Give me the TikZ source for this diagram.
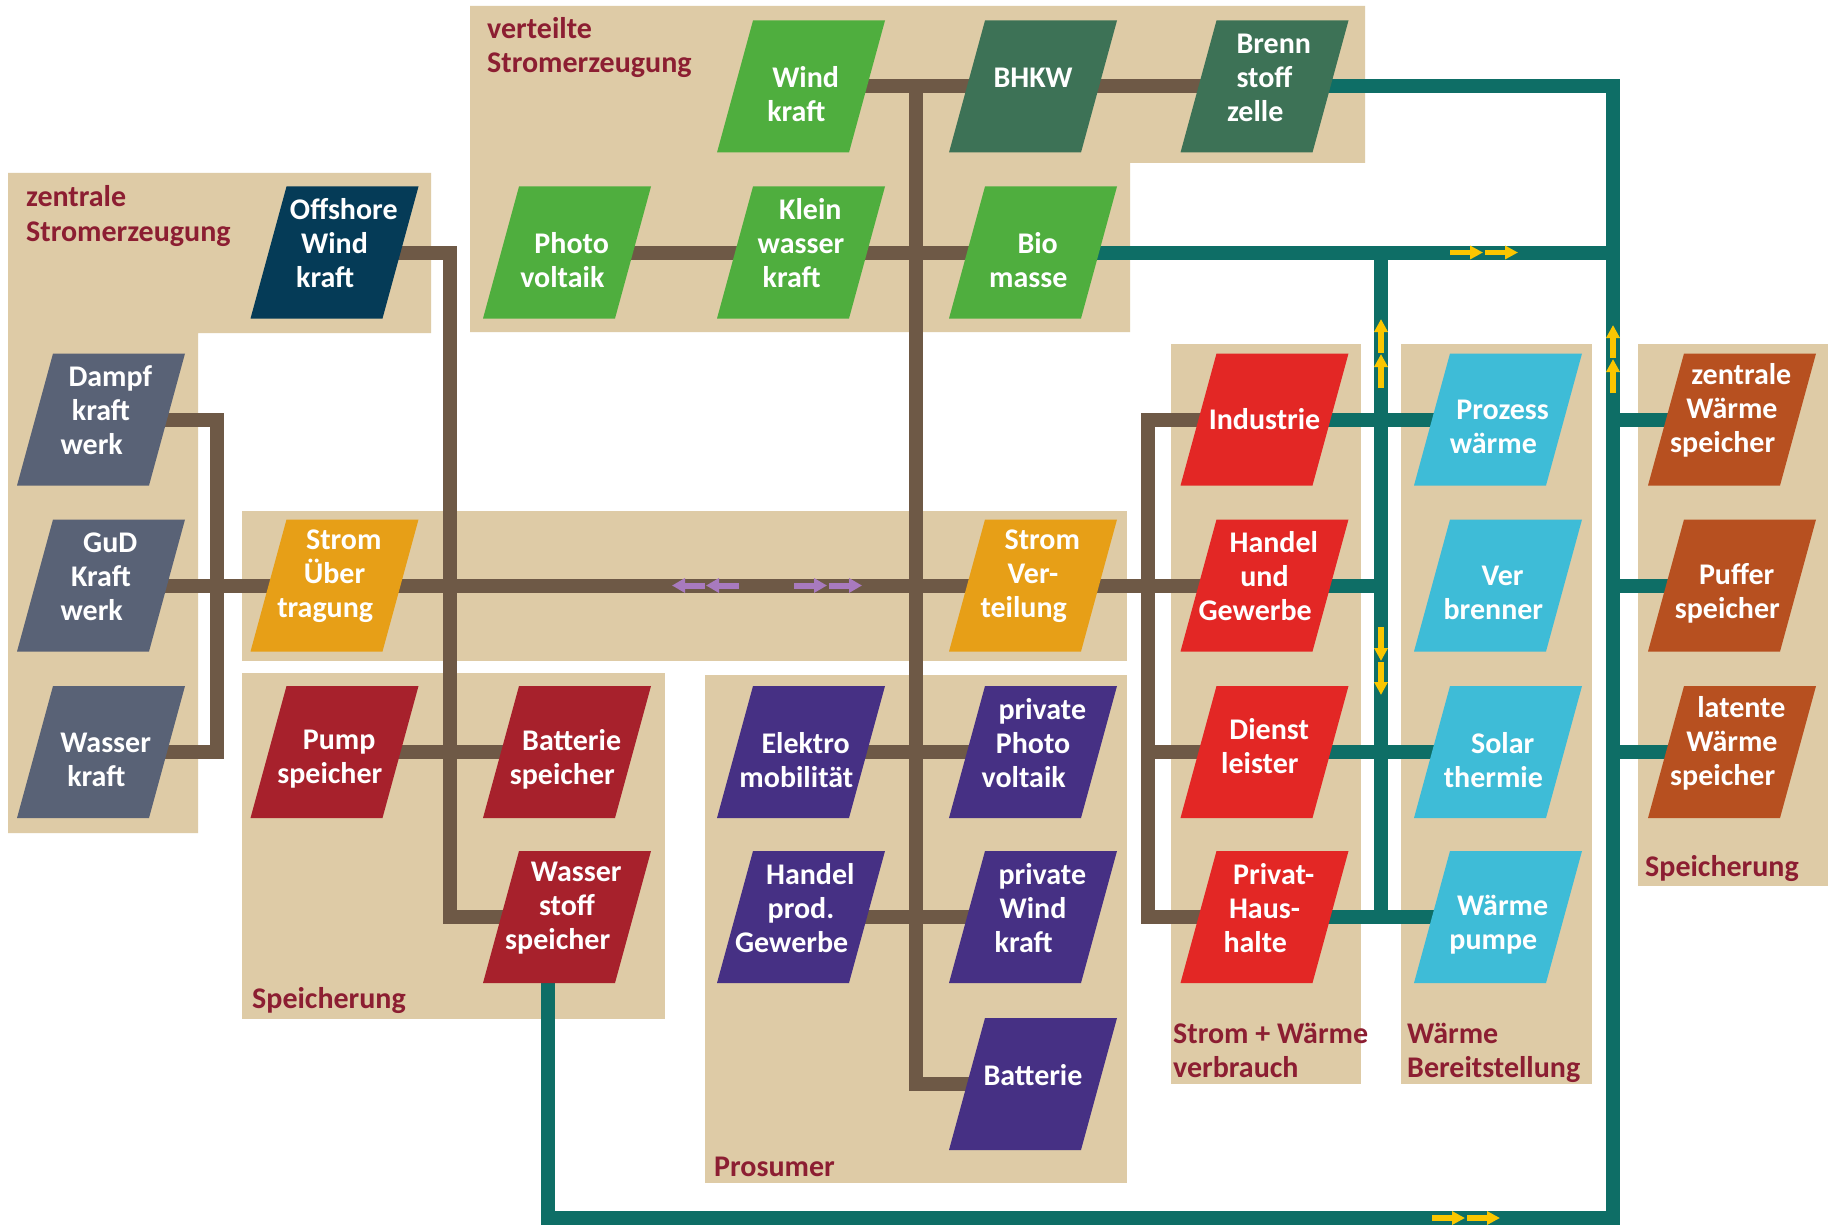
\documentclass[tikz,border=0pt]{standalone}
\usepackage{fontspec}
\setmainfont{Carlito}
\usetikzlibrary{arrows.meta}
\definecolor{tanbg}{RGB}{222,203,166}
\definecolor{lbl}{RGB}{140,30,50}
\definecolor{cGray}{RGB}{89,98,118}
\definecolor{cOff}{RGB}{5,59,87}
\definecolor{cG}{RGB}{79,174,62}
\definecolor{cDG}{RGB}{61,114,86}
\definecolor{cOr}{RGB}{231,159,23}
\definecolor{cDR}{RGB}{167,33,44}
\definecolor{cP}{RGB}{70,48,132}
\definecolor{cR}{RGB}{227,39,37}
\definecolor{cC}{RGB}{62,188,215}
\definecolor{cRu}{RGB}{183,80,32}
\definecolor{cBr}{RGB}{110,89,70}
\definecolor{cTe}{RGB}{14,110,102}
\definecolor{yel}{RGB}{250,198,0}
\definecolor{lil}{RGB}{168,122,190}
\pgfdeclarelayer{bg}
\pgfdeclarelayer{ln}
\pgfsetlayers{bg,ln,main}
\newcommand\LsA{\makebox[18.6pt]{}}
\newcommand\LsB{\makebox[9.3pt]{}}
\newcommand\Pnode[6]{%
  \node[pshape=#4] (#1) at (#2,#3) {};
  \node[ptext,yshift=#5pt] (#1-t) at (#1.center) {#6};}
\tikzset{
  pshape/.style={shape=rectangle, minimum width=168pt, minimum height=132pt,
    inner sep=0pt, outer sep=0pt,
    path picture={\fill[#1] (path picture bounding box.south west)
      -- ([xshift=-36pt]path picture bounding box.south east)
      -- (path picture bounding box.north east)
      -- ([xshift=36pt]path picture bounding box.north west) -- cycle;}},
  ptext/.style={text=white, font=\bfseries\fontsize{30}{34}\selectfont, align=center, inner sep=0pt},
  glab/.style={text=lbl, font=\bfseries\fontsize{30}{34}\selectfont, anchor=base west, inner sep=0pt},
  brn/.style={draw=cBr, line width=14pt},
  tel/.style={draw=cTe, line width=14pt},
  yar/.style={draw=yel, line width=5.5pt, -{Triangle[length=13pt,width=13pt]}},
  lar/.style={draw=lil, line width=6pt, -{Triangle[length=13pt,width=14pt]}}
}
\begin{document}
\begin{tikzpicture}[x=1pt,y=-1pt]
\useasboundingbox (0,0) rectangle (1839,1225);
\begin{pgfonlayer}{bg}
\fill[white] (0,0) rectangle (1839,1225);
\fill[tanbg] (8,173) -- (431,173) -- (431,333) -- (198,333) -- (198,833) -- (8,833) -- cycle;
\fill[tanbg] (470,6) -- (1365,6) -- (1365,163) -- (1130,163) -- (1130,332) -- (470,332) -- cycle;
\fill[tanbg] (242,511) rectangle (1127,661);
\fill[tanbg] (242,673) rectangle (665,1019);
\fill[tanbg] (705,675) rectangle (1127,1183);
\fill[tanbg] (1171,344) rectangle (1361,1084);
\fill[tanbg] (1401,344) rectangle (1592,1084);
\fill[tanbg] (1638,344) rectangle (1828,886);
\end{pgfonlayer}

% group labels
\node[glab] (lz1) at (26,206.7) {zentrale};
\node[glab] (lz2) at (26,241) {Stromerzeugung};
\node[glab] (lv1) at (487,38.3) {verteilte};
\node[glab] (lv2) at (487,72.7) {Stromerzeugung};
\node[glab] (ls1) at (252,1008) {Speicherung};
\node[glab] (lp) at (714,1176) {Prosumer};
\node[glab] (lsw1) at (1173,1043) {Strom + Wärme};
\node[glab] (lsw2) at (1173,1077) {verbrauch};
\node[glab] (lwb1) at (1407,1043) {Wärme};
\node[glab] (lwb2) at (1407,1077) {Bereitstellung};
\node[glab] (ls2) at (1645,876) {Speicherung};

% nodes
\Pnode{off}{334.5}{252.5}{cOff}{9}{\LsA Offshore\\Wind\\kraft\LsA}
\Pnode{dampf}{101}{419.5}{cGray}{9}{\LsA Dampf\\kraft\\werk\LsA}
\Pnode{gud}{101}{585.5}{cGray}{9}{\LsA GuD\\Kraft\\werk\LsA}
\Pnode{wk}{101}{752}{cGray}{-7.6}{\LsB Wasser\\kraft\LsB}
\Pnode{su}{334.5}{585.5}{cOr}{9}{\LsA Strom\\Über\\tragung\LsA}
\Pnode{pump}{334.5}{752}{cDR}{-7.6}{\LsB Pump\\speicher\LsB}
\Pnode{bsp}{567}{752}{cDR}{-7.6}{\LsB Batterie\\speicher\LsB}
\Pnode{h2}{567}{917}{cDR}{9}{\LsA Wasser\\stoff\\speicher\LsA}
\Pnode{pv}{567}{252.5}{cG}{-7.6}{\LsB Photo\\voltaik\LsB}
\Pnode{wind}{801}{86.5}{cG}{-7.6}{\LsB Wind\\kraft\LsB}
\Pnode{kwk}{801}{252.5}{cG}{9}{\LsA Klein\\wasser\\kraft\LsA}
\Pnode{bhkw}{1033}{86.5}{cDG}{9}{BHKW}
\Pnode{bio}{1033}{252.5}{cG}{-7.6}{\LsB Bio\\masse\LsB}
\Pnode{bz}{1264.5}{86.5}{cDG}{9}{\LsA Brenn\\stoff\\zelle\LsA}
\Pnode{sv}{1033}{585.5}{cOr}{9}{\LsA Strom\\Ver-\\teilung\LsA}
\Pnode{em}{801}{752}{cP}{-7.6}{\LsB Elektro\\mobilität\LsB}
\Pnode{ppv}{1033}{752}{cP}{9}{\LsA private\\Photo\\voltaik\LsA}
\Pnode{hpg}{801}{917}{cP}{9}{\LsA Handel\\prod.\\Gewerbe\LsA}
\Pnode{pwk}{1033}{917}{cP}{9}{\LsA private\\Wind\\kraft\LsA}
\Pnode{batt}{1033}{1084}{cP}{9}{Batterie}
\Pnode{ind}{1264.5}{419.5}{cR}{0}{Industrie}
\Pnode{hug}{1264.5}{585.5}{cR}{9}{\LsA Handel\\und\\Gewerbe\LsA}
\Pnode{dl}{1264.5}{752}{cR}{6}{\LsB Dienst\\leister\LsB}
\Pnode{ph}{1264.5}{917}{cR}{9}{\LsA Privat-\\Haus-\\halte\LsA}
\Pnode{pw}{1498}{419.5}{cC}{-7.6}{\LsB Prozess\\wärme\LsB}
\Pnode{vb}{1498}{585.5}{cC}{-7.6}{\LsB Ver\\brenner\LsB}
\Pnode{st}{1498}{752}{cC}{-7.6}{\LsB Solar\\thermie\LsB}
\Pnode{wp}{1498}{917}{cC}{-7.6}{\LsB Wärme\\pumpe\LsB}
\Pnode{zws}{1732}{419.5}{cRu}{9}{\LsA zentrale\\Wärme\\speicher\LsA}
\Pnode{puf}{1732}{585.5}{cRu}{-7.6}{\LsB Puffer\\speicher\LsB}
\Pnode{lws}{1732}{752}{cRu}{9}{\LsA latente\\Wärme\\speicher\LsA}

% junction coordinates
\coordinate (tr0) at (916,86.5);
\coordinate (lb) at (217,419.5);
\coordinate (ob) at (450,252.5);
\coordinate (rb) at (1148,419.5);
\coordinate (tv1) at (1381,252.5);
\coordinate (tv2) at (1381,917);
\coordinate (tR) at (1613,252.5);
\coordinate (tB) at (1613,1218);
\coordinate (h2b) at (548,917);

\begin{pgfonlayer}{ln}
% brown power lines
\draw[brn] (wind.center) -- (bhkw.center) -- (bz.center);
\draw[brn] (tr0) |- (batt.center);
\draw[brn] (pv.center) -- (kwk.center) -- (bio.center);
\draw[brn] (off.center) -- (ob) |- (h2.center);
\draw[brn] (pump.center) -- (bsp.center);
\draw[brn] (dampf.center) -- (lb) |- (wk.center);
\draw[brn] (gud.center) -- (su.center) -- (sv.center) -- (hug.center);
\draw[brn] (ind.center) -- (rb) |- (ph.center);
\draw[brn] (rb |- dl.center) -- (dl.center);
\draw[brn] (em.center) -- (ppv.center);
\draw[brn] (hpg.center) -- (pwk.center);
% teal heat lines
\draw[tel] (bz.center) -| (tB) -| (h2b);
\draw[tel] (bio.center) -- (tR);
\draw[tel] (tv1) -- (tv2);
\draw[tel] (ind.center) -- (pw.center);
\draw[tel] (hug.center) -- (tv1 |- hug.center);
\draw[tel] (dl.center) -- (st.center);
\draw[tel] (ph.center) -- (wp.center);
\draw[tel] (tR |- zws.center) -- (zws.center);
\draw[tel] (tR |- puf.center) -- (puf.center);
\draw[tel] (tR |- lws.center) -- (lws.center);
% flow arrows
\draw[yar] (1450,252.5) -- (1483,252.5);
\draw[yar] (1485,252.5) -- (1518,252.5);
\draw[yar] (1432,1218) -- (1465,1218);
\draw[yar] (1467,1218) -- (1500,1218);
\draw[yar] (1381,388) -- (1381,354);
\draw[yar] (1381,353) -- (1381,319);
\draw[yar] (1381,627) -- (1381,661);
\draw[yar] (1381,662) -- (1381,695);
\draw[yar] (1613,393) -- (1613,359);
\draw[yar] (1613,358) -- (1613,325);
\draw[lar] (739,585.5) -- (706,585.5);
\draw[lar] (705,585.5) -- (672,585.5);
\draw[lar] (794,585.5) -- (827,585.5);
\draw[lar] (829,585.5) -- (862,585.5);
\end{pgfonlayer}
\end{tikzpicture}
\end{document}
